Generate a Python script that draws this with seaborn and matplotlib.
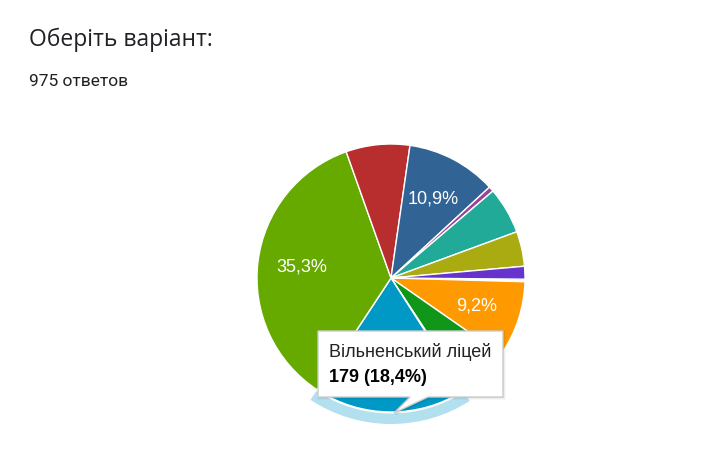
import matplotlib
matplotlib.use('Agg')
import matplotlib.pyplot as plt
from matplotlib.patches import Wedge, Polygon
import seaborn as sns

sns.set_theme(style='white')
plt.rcParams['font.family'] = ['Liberation Sans', 'DejaVu Sans']

# options in the order google forms draws them (clockwise from 3 o'clock)
options = ['Варіант 1', 'Варіант 2', 'Варіант 3', 'Варіант 4', 'Варіант 5',
           'Вільненський ліцей', 'Варіант 7', 'Варіант 8', 'Варіант 9', 'Варіант 10',
           'Варіант 11', 'Варіант 12', 'Варіант 13', 'Варіант 14']
counts = [2, 1, 90, 59, 2, 179, 0, 344, 75, 106, 6, 55, 41, 15]
colors = ['#3366CC', '#DC3912', '#FF9900', '#109618', '#990099', '#0099C6', '#DD4477',
          '#66AA00', '#B82E2E', '#316395', '#994499', '#22AA99', '#AAAA11', '#6633CC']
hovered = 'Вільненський ліцей'

W, H = 705, 459
fig = plt.figure(figsize=(W / 100, H / 100), dpi=100)
ax = fig.add_axes([0, 0, 1, 1])

cx, cy, R = 391, H - 278, 134


def pct_label(p):
    # google only prints the big slices
    return f'{p:.1f}'.replace('.', ',') + '%' if p >= 9 else ''


wedges, texts, autotexts = ax.pie(
    counts, colors=colors, startangle=-0.5, counterclock=False,
    center=(cx, cy), radius=R, autopct=pct_label, pctdistance=0.67,
    wedgeprops=dict(edgecolor='white', linewidth=1),
    textprops=dict(color='white', fontsize=13))

# highlight ring around hovered slice, its label sits under the tooltip
idx = options.index(hovered)
autotexts[idx].set_visible(False)
w = wedges[idx]
ax.add_patch(Wedge((cx, cy), R + 12, w.theta1, w.theta2, width=10.5,
                   facecolor='#B3E0EE', edgecolor='none', zorder=2))

# tooltip (image pixel coords, y flipped)
pts = [(318, 331), (503, 331), (503, 397), (428, 397), (394, 413), (410, 397), (318, 397)]
ax.add_patch(Polygon([(x + 1, H - y - 1) for x, y in pts], closed=True,
                     facecolor='#000000', alpha=0.07, edgecolor='#000000',
                     linewidth=2, zorder=9))
ax.add_patch(Polygon([(x, H - y) for x, y in pts], closed=True,
                     facecolor='white', edgecolor='#cccccc', linewidth=1, zorder=10))
pct = counts[idx] / sum(counts) * 100
ax.text(329, H - 352, hovered, fontsize=13, color='#222222', va='center', zorder=11)
ax.text(329, H - 377, f'{counts[idx]} ({pct:.1f}%)'.replace('.', ','), fontsize=13,
        fontweight='bold', color='#000000', va='center', zorder=11)

ax.text(29, H - 40, 'Оберіть варіант:', fontsize=16.5, family=['Open Sans', 'DejaVu Sans'],
        color='#202124', va='center')
ax.text(29, H - 81, f'{sum(counts)} ответов', fontsize=12.5,
        family=['Roboto', 'DejaVu Sans'], color='#202124', va='center')

ax.set_xlim(0, W)
ax.set_ylim(0, H)
ax.set_aspect('auto')
ax.axis('off')

fig.savefig('out.png', dpi=100, facecolor='white')
